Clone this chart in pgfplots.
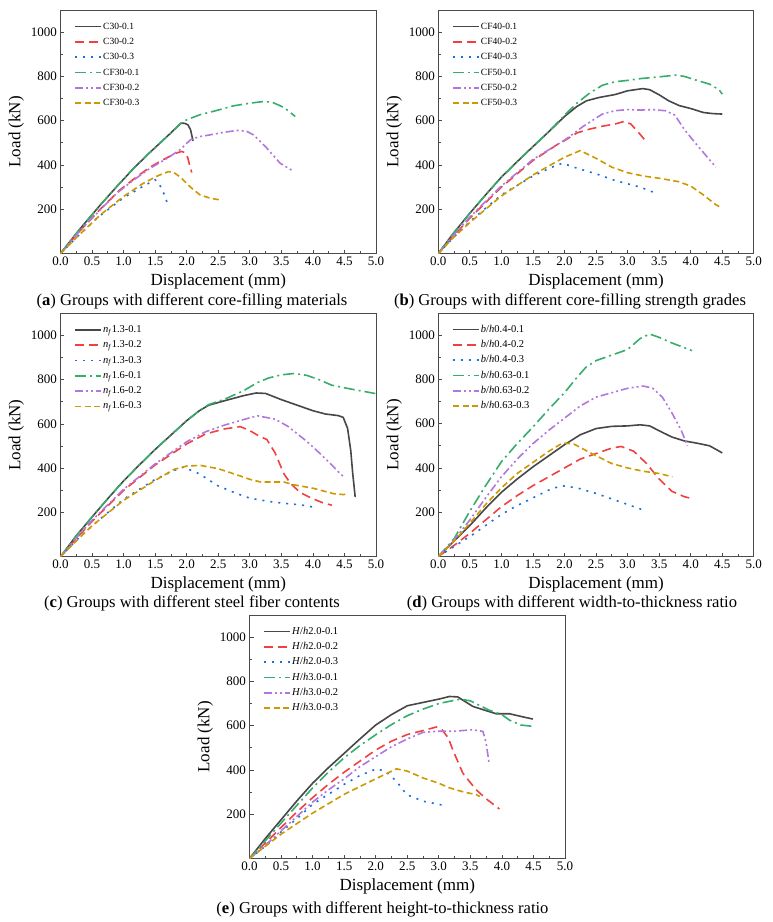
\documentclass[border=0pt]{standalone}
\usepackage{fontspec}
\setmainfont{Liberation Serif}
\usepackage{pgfplots}
\pgfplotsset{compat=1.18}

\definecolor{cBlack}{HTML}{474747}
\definecolor{cRed}{HTML}{F14040}
\definecolor{cBlue}{HTML}{1A6FDF}
\definecolor{cGreen}{HTML}{37AD6B}
\definecolor{cPurple}{HTML}{B177DE}
\definecolor{cYellow}{HTML}{CC9900}
\definecolor{frame}{HTML}{4A4A4A}

\pgfplotsset{
  s1/.style={cBlack, solid, line width=1.6pt, line join=round},
  s2/.style={cRed, line width=1.6pt, dash pattern=on 9pt off 5pt},
  s3/.style={cBlue, line width=1.6pt, dash pattern=on 2pt off 6pt},
  s4/.style={cGreen, line width=1.6pt, dash pattern=on 11pt off 4pt on 2pt off 4pt},
  s5/.style={cPurple, line width=1.6pt, dash pattern=on 8pt off 3pt on 2pt off 3pt on 2pt off 3pt},
  s6/.style={cYellow, line width=1.6pt, dash pattern=on 6pt off 3.5pt},
  ldpanel/.style={
    scale only axis, width=315.5pt, height=243.5pt,
    xmin=0, xmax=5, ymin=0, ymax=1100,
    xtick={0,0.5,...,5}, xticklabels={0.0,0.5,1.0,1.5,2.0,2.5,3.0,3.5,4.0,4.5,5.0},
    ytick={200,400,600,800,1000}, yticklabels={200,400,600,800,1000},
    minor x tick num=1, minor y tick num=1,
    tick align=inside, xtick pos=bottom, ytick pos=left,
    major tick length=4pt, minor tick length=2.5pt,
    every tick/.style={frame, line width=0.8pt},
    axis line style={frame, line width=1pt},
    /pgf/number format/assume math mode=true,
    tick label style={font=\fontsize{13}{13}\selectfont},
    label style={font=\fontsize{17}{17}\selectfont},
    xlabel style={yshift=-1pt},
    xlabel={Displacement (mm)}, ylabel={Load (kN)},
    legend cell align=left,
    legend image code/.code={\draw[##1] (0pt,0pt) -- (26pt,0pt);},
    legend style={at={(0.044,0.955)}, anchor=north west, draw=none, fill=none,
      inner sep=0pt, row sep=4.3pt,
      nodes={inner sep=1pt, text height=7pt, text depth=2pt}},
  },
}

\begin{document}
\begin{tikzpicture}
\useasboundingbox (0,0) rectangle (772pt,-922pt);

% (a) core-filling materials
\begin{axis}[ldpanel, at={(60.5pt,-253.5pt)}, anchor=south west,
  legend style={font=\fontsize{9.5}{9.5}\selectfont}]
\addplot[s1] coordinates {(0,0)(0.3,108)(0.63,219)(0.9,305)(1.16,385)(1.4,452)(1.69,529)(1.91,589)(1.97,588)(2.02,581)(2.06,560)(2.08,535)(2.10,509)};
\addplot[s2] coordinates {(0,0)(0.3,100)(0.63,200)(0.94,287)(1.2,345)(1.42,390)(1.6,420)(1.74,440)(1.85,455)(1.92,461)(1.98,455)(2.02,430)(2.05,395)(2.08,366)};
\addplot[s3] coordinates {(0,0)(0.3,85)(0.6,165)(1.0,252)(1.3,302)(1.5,333)(1.55,320)(1.61,290)(1.66,255)(1.69,230)};
\addplot[s4] coordinates {(0,0)(0.3,108)(0.63,219)(0.9,305)(1.16,385)(1.4,452)(1.69,529)(1.91,589)(2.0,604)(2.21,627)(2.5,648)(2.74,667)(3.0,679)(3.2,686)(3.35,684)(3.5,665)(3.59,649)(3.72,619)};
\addplot[s5] coordinates {(0,0)(0.3,100)(0.63,197)(0.89,272)(1.15,330)(1.42,385)(1.69,430)(1.9,470)(2.06,514)(2.2,528)(2.37,536)(2.6,548)(2.8,556)(2.95,552)(3.06,536)(3.17,505)(3.27,476)(3.48,408)(3.7,370)};
\addplot[s6] coordinates {(0,0)(0.3,85)(0.63,174)(1.0,258)(1.3,315)(1.42,333)(1.55,352)(1.71,370)(1.8,365)(1.9,345)(2.06,300)(2.21,265)(2.37,250)(2.53,242)};
\legend{C30-0.1,C30-0.2,C30-0.3,CF30-0.1,CF30-0.2,CF30-0.3}
\end{axis}

% (b) core-filling strength grades
\begin{axis}[ldpanel, at={(438.3pt,-253.5pt)}, anchor=south west,
  legend style={font=\fontsize{9.5}{9.5}\selectfont}]
\addplot[s1] coordinates {(0,0)(0.25,95)(0.5,182)(0.75,265)(1.0,345)(1.25,415)(1.5,483)(1.75,550)(2.0,619)(2.2,665)(2.35,690)(2.55,705)(2.8,718)(3.0,735)(3.24,745)(3.35,740)(3.5,717)(3.65,690)(3.82,668)(4.0,655)(4.2,637)(4.35,632)(4.5,630)};
\addplot[s2] coordinates {(0,0)(0.25,82)(0.5,160)(1.0,300)(1.5,420)(1.9,495)(2.0,510)(2.2,545)(2.4,562)(2.6,575)(2.8,585)(2.95,597)(3.05,585)(3.15,555)(3.27,514)};
\addplot[s3] coordinates {(0,0)(0.25,75)(0.5,145)(1.0,265)(1.5,350)(1.8,390)(1.97,408)(2.2,385)(2.5,360)(2.8,330)(3.0,315)(3.2,300)(3.45,272)};
\addplot[s4] coordinates {(0,0)(0.25,95)(0.5,182)(0.75,265)(1.0,345)(1.25,415)(1.5,483)(1.75,550)(2.0,625)(2.2,680)(2.4,725)(2.6,760)(2.8,776)(3.0,782)(3.2,790)(3.5,798)(3.77,806)(3.9,800)(4.1,782)(4.3,765)(4.45,740)(4.5,720)};
\addplot[s5] coordinates {(0,0)(0.25,85)(0.5,165)(1.0,305)(1.5,425)(2.0,512)(2.3,575)(2.6,630)(2.8,645)(3.0,650)(3.2,648)(3.4,650)(3.6,645)(3.75,625)(3.9,560)(4.1,490)(4.25,440)(4.4,390)};
\addplot[s6] coordinates {(0,0)(0.25,75)(0.5,140)(1.0,260)(1.5,355)(2.0,435)(2.25,465)(2.5,430)(2.75,390)(3.0,365)(3.25,350)(3.5,340)(3.8,325)(4.0,305)(4.2,265)(4.4,220)(4.5,205)};
\legend{CF40-0.1,CF40-0.2,CF40-0.3,CF50-0.1,CF50-0.2,CF50-0.3}
\end{axis}

% (c) steel fiber contents
\begin{axis}[ldpanel, at={(60.5pt,-556.8pt)}, anchor=south west,
  legend style={font=\fontsize{10.5}{10.5}\selectfont}]
\addplot[s1] coordinates {(0,0)(0.25,95)(0.5,180)(0.75,263)(1.0,343)(1.25,415)(1.5,485)(1.75,550)(2.0,615)(2.2,660)(2.35,685)(2.6,705)(2.9,728)(3.1,740)(3.25,738)(3.5,710)(3.75,685)(4.0,660)(4.2,645)(4.4,638)(4.48,630)(4.55,580)(4.6,480)(4.63,380)(4.67,270)};
\addplot[s2] coordinates {(0,0)(0.25,82)(0.5,160)(1.0,300)(1.5,415)(2.0,510)(2.3,555)(2.6,578)(2.85,588)(3.0,570)(3.15,545)(3.27,530)(3.4,470)(3.54,375)(3.65,330)(3.8,290)(4.0,262)(4.15,245)(4.3,233)};
\addplot[s3] coordinates {(0,0)(0.25,75)(0.5,140)(1.0,260)(1.5,350)(1.8,390)(1.95,405)(2.2,375)(2.5,320)(2.8,285)(3.0,265)(3.3,250)(3.6,240)(3.8,235)(4.0,225)};
\addplot[s4] coordinates {(0,0)(0.25,95)(0.5,180)(0.75,263)(1.0,343)(1.25,415)(1.5,485)(1.75,550)(2.0,615)(2.2,660)(2.35,688)(2.6,712)(2.9,750)(3.12,787)(3.3,808)(3.5,822)(3.7,828)(3.9,820)(4.1,800)(4.3,775)(4.6,758)(5.0,737)};
\addplot[s5] coordinates {(0,0)(0.25,85)(0.5,165)(1.0,305)(1.5,420)(2.0,520)(2.3,565)(2.6,595)(2.9,620)(3.12,637)(3.4,622)(3.6,590)(3.8,545)(3.91,520)(4.1,470)(4.28,420)(4.4,385)(4.49,360)};
\addplot[s6] coordinates {(0,0)(0.25,72)(0.5,140)(1.0,255)(1.5,345)(1.8,395)(2.0,410)(2.22,413)(2.5,398)(2.8,370)(3.0,350)(3.17,338)(3.54,338)(3.7,325)(4.0,310)(4.33,285)(4.49,281)(4.55,287)};
\legend{\textit{n}\textsubscript{\textit{f}}1.3-0.1,\textit{n}\textsubscript{\textit{f}}1.3-0.2,\textit{n}\textsubscript{\textit{f}}1.3-0.3,\textit{n}\textsubscript{\textit{f}}1.6-0.1,\textit{n}\textsubscript{\textit{f}}1.6-0.2,\textit{n}\textsubscript{\textit{f}}1.6-0.3}
\end{axis}

% (d) width-to-thickness ratio
\begin{axis}[ldpanel, at={(438.3pt,-556.5pt)}, anchor=south west,
  legend style={font=\fontsize{10.5}{10.5}\selectfont}]
\addplot[s1] coordinates {(0,0)(0.25,70)(0.5,140)(0.75,218)(1.0,290)(1.25,350)(1.5,405)(1.75,455)(2.0,505)(2.25,550)(2.5,578)(2.75,588)(3.0,590)(3.2,595)(3.35,590)(3.5,568)(3.7,540)(3.9,522)(4.1,512)(4.3,500)(4.5,468)};
\addplot[s2] coordinates {(0,0)(0.25,50)(0.5,105)(0.75,165)(1.0,225)(1.25,275)(1.5,320)(1.75,360)(2.0,400)(2.25,440)(2.5,465)(2.75,490)(2.9,497)(3.1,475)(3.3,420)(3.5,350)(3.7,295)(3.9,270)(4.05,260)};
\addplot[s3] coordinates {(0,0)(0.25,45)(0.5,90)(0.75,140)(1.0,190)(1.25,230)(1.5,265)(1.75,300)(1.95,320)(2.2,310)(2.5,285)(2.75,260)(3.0,235)(3.25,210)};
\addplot[s4] coordinates {(0,0)(0.25,80)(0.5,205)(0.75,320)(1.0,428)(1.25,510)(1.5,585)(1.75,665)(2.0,740)(2.2,810)(2.34,855)(2.5,885)(2.8,915)(3.0,935)(3.2,985)(3.35,1005)(3.5,990)(3.7,965)(4.02,930)};
\addplot[s5] coordinates {(0,0)(0.25,75)(0.5,165)(0.75,265)(1.0,360)(1.25,440)(1.5,510)(1.75,570)(2.0,625)(2.25,680)(2.5,720)(2.75,740)(3.0,760)(3.25,770)(3.4,760)(3.55,720)(3.7,650)(3.85,570)(3.95,500)};
\addplot[s6] coordinates {(0,0)(0.25,70)(0.5,150)(0.75,235)(1.0,310)(1.25,375)(1.5,425)(1.75,475)(1.97,513)(2.15,508)(2.3,485)(2.5,455)(2.75,420)(3.0,400)(3.25,385)(3.5,375)(3.71,360)};
\legend{\textit{b}/\textit{h}0.4-0.1,\textit{b}/\textit{h}0.4-0.2,\textit{b}/\textit{h}0.4-0.3,\textit{b}/\textit{h}0.63-0.1,\textit{b}/\textit{h}0.63-0.2,\textit{b}/\textit{h}0.63-0.3}
\end{axis}

% (e) height-to-thickness ratio
\begin{axis}[ldpanel, at={(249.5pt,-858.5pt)}, anchor=south west,
  legend style={font=\fontsize{10.5}{10.5}\selectfont}]
\addplot[s1] coordinates {(0,0)(0.25,90)(0.5,175)(0.75,260)(1.0,340)(1.25,410)(1.5,475)(1.75,540)(2.0,603)(2.25,650)(2.5,690)(2.75,705)(3.0,720)(3.17,732)(3.3,730)(3.54,687)(3.75,668)(3.91,654)(4.12,654)(4.3,642)(4.49,630)};
\addplot[s2] coordinates {(0,0)(0.25,70)(0.5,140)(0.75,210)(1.0,275)(1.25,335)(1.5,390)(1.75,440)(2.0,490)(2.25,530)(2.5,560)(2.75,578)(2.96,594)(3.05,582)(3.15,545)(3.22,492)(3.38,386)(3.59,311)(3.75,270)(3.96,224)};
\addplot[s3] coordinates {(0,0)(0.25,55)(0.5,120)(0.75,180)(1.0,245)(1.25,290)(1.5,335)(1.75,375)(2.01,405)(2.15,395)(2.33,349)(2.49,289)(2.75,259)(3.0,245)(3.12,236)};
\addplot[s4] coordinates {(0,0)(0.25,80)(0.5,160)(0.75,240)(1.0,319)(1.25,390)(1.5,455)(1.75,510)(2.0,559)(2.25,605)(2.5,645)(2.75,675)(3.0,700)(3.2,712)(3.35,720)(3.5,712)(3.6,698)(3.8,670)(4.0,650)(4.12,625)(4.3,603)(4.49,597)};
\addplot[s5] coordinates {(0,0)(0.25,60)(0.5,125)(0.75,190)(1.0,255)(1.25,310)(1.5,360)(1.75,415)(2.0,460)(2.25,505)(2.5,540)(2.75,570)(3.0,575)(3.25,575)(3.54,582)(3.7,574)(3.75,522)(3.8,424)};
\addplot[s6] coordinates {(0,0)(0.5,110)(1.0,205)(1.5,290)(2.0,360)(2.33,405)(2.5,395)(2.75,364)(3.0,340)(3.17,319)(3.4,300)(3.59,289)(3.65,280)};
\legend{\textit{H}/\textit{h}2.0-0.1,\textit{H}/\textit{h}2.0-0.2,\textit{H}/\textit{h}2.0-0.3,\textit{H}/\textit{h}3.0-0.1,\textit{H}/\textit{h}3.0-0.2,\textit{H}/\textit{h}3.0-0.3}
\end{axis}

% sub-figure captions
\begin{scope}[every node/.style={font=\fontsize{16.6}{16.6}\selectfont, inner sep=0pt}]
\node at (192pt,-301pt) {(\textbf{a}) Groups with different core-filling materials};
\node at (570pt,-301pt) {(\textbf{b}) Groups with different core-filling strength grades};
\node at (192pt,-603pt) {(\textbf{c}) Groups with different steel fiber contents};
\node at (572pt,-603pt) {(\textbf{d}) Groups with different width-to-thickness ratio};
\node at (382.5pt,-909pt) {(\textbf{e}) Groups with different height-to-thickness ratio};
\end{scope}
\end{tikzpicture}
\end{document}
